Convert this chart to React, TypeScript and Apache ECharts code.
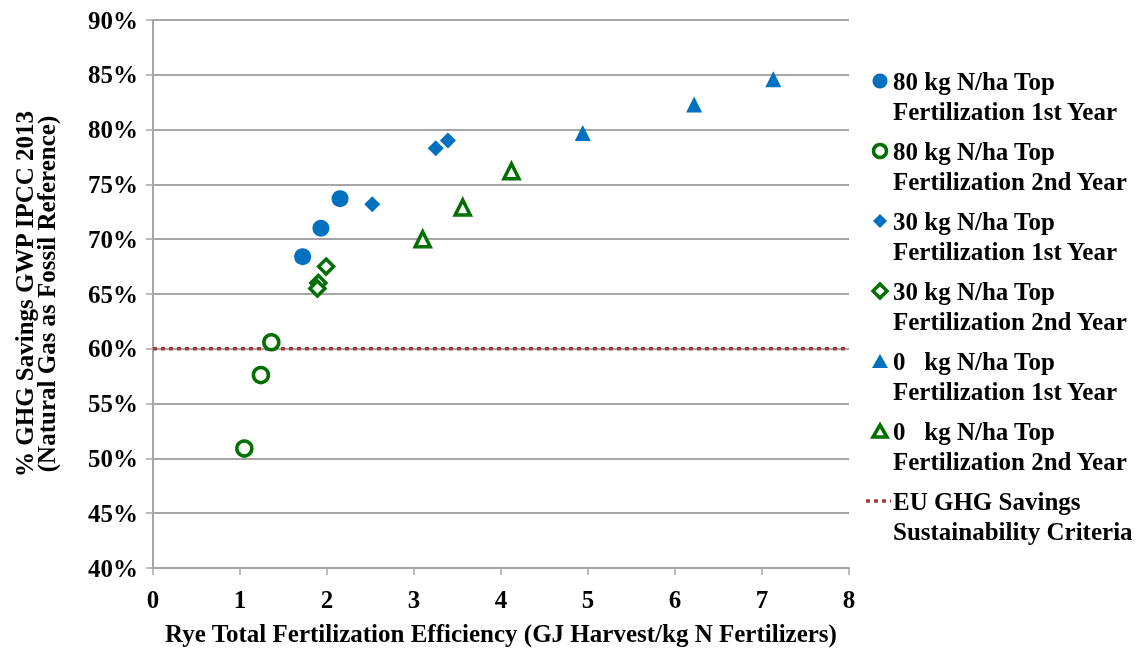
import React, { useEffect, useRef } from "react";
import * as echarts from "echarts";

const seriesNames = [
  "80 kg N/ha Top\nFertilization 1st Year",
  "80 kg N/ha Top\nFertilization 2nd Year",
  "30 kg N/ha Top\nFertilization 1st Year",
  "30 kg N/ha Top\nFertilization 2nd Year",
  "0   kg N/ha Top\nFertilization 1st Year",
  "0   kg N/ha Top\nFertilization 2nd Year",
  "EU GHG Savings\nSustainability Criteria",
];

const n80y1: number[][] = [[1.72, 68.4], [1.93, 71.0], [2.15, 73.7]];
const n80y2: number[][] = [[1.05, 50.9], [1.24, 57.6], [1.36, 60.6]];
const n30y1: number[][] = [[2.52, 73.2], [3.25, 78.3], [3.39, 79.0]];
const n30y2: number[][] = [[1.99, 67.5], [1.90, 66.0], [1.89, 65.5]];
const n0y1: number[][] = [[4.94, 79.7], [6.22, 82.3], [7.13, 84.6]];
const n0y2: number[][] = [[3.10, 70.0], [3.56, 72.9], [4.12, 76.2]];
const euCriteria: number[][] = [[0, 60], [8, 60]];

const xTicks = [0, 8, 1];
const yTicks = [40, 90, 5];

const BLUE = "#0070C0";
const GREEN = "#007000";
const RED = "#A53A3A";
const GREY = "#A6A6A6";
const FONT = "'Liberation Serif', 'Times New Roman', serif";
const FS = 25;

export default function App() {
  const ref = useRef<HTMLDivElement>(null);
  useEffect(() => {
    if (!ref.current) return;
    const chart = echarts.init(ref.current, null, { renderer: "svg" });

    const legendX = 880;
    const legendY0 = 81;
    const gap = 70;
    const legendGraphics: any[] = [];
    seriesNames.forEach((name, i) => {
      const y = legendY0 + gap * i;
      let icon: any;
      if (i === 0) icon = { type: "circle", shape: { cx: legendX, cy: y, r: 7.5 }, style: { fill: BLUE } };
      else if (i === 1) icon = { type: "circle", shape: { cx: legendX, cy: y, r: 6.5 }, style: { fill: "#fff", stroke: GREEN, lineWidth: 3.5 } };
      else if (i === 2) icon = { type: "polygon", shape: { points: [[legendX, y - 7], [legendX + 7, y], [legendX, y + 7], [legendX - 7, y]] }, style: { fill: BLUE } };
      else if (i === 3) icon = { type: "polygon", shape: { points: [[legendX, y - 7], [legendX + 7, y], [legendX, y + 7], [legendX - 7, y]] }, style: { fill: "#fff", stroke: GREEN, lineWidth: 3.5 } };
      else if (i === 4) icon = { type: "polygon", shape: { points: [[legendX, y - 7], [legendX + 8, y + 7], [legendX - 8, y + 7]] }, style: { fill: BLUE } };
      else if (i === 5) icon = { type: "polygon", shape: { points: [[legendX, y - 6], [legendX + 7, y + 6], [legendX - 7, y + 6]] }, style: { fill: "#fff", stroke: GREEN, lineWidth: 3.5 } };
      else icon = { type: "line", shape: { x1: legendX - 14, y1: y, x2: legendX + 11, y2: y }, style: { stroke: RED, lineWidth: 3.5, lineDash: [4, 4] } };
      legendGraphics.push(icon);
      legendGraphics.push({
        type: "text",
        x: 893,
        y: y - 15,
        style: {
          text: name,
          fill: "#000",
          font: `bold ${FS}px ${FONT}`,
          lineHeight: 30,
          textVerticalAlign: "top",
        },
      });
    });

    const scatterBase = (name: string, data: number[][], symbol: string, filled: boolean, color: string, size: number) => ({
      name,
      type: "scatter",
      data,
      symbol,
      symbolSize: size,
      itemStyle: filled
        ? { color, opacity: 1 }
        : { color: "#fff", borderColor: color, borderWidth: 3.5, opacity: 1 },
      z: 5,
    });

    chart.setOption({
      animation: false,
      grid: { left: 153, right: 297, top: 20, bottom: 82, containLabel: false, outerBoundsMode: "none" },
      xAxis: {
        type: "value",
        min: xTicks[0],
        max: xTicks[1],
        interval: xTicks[2],
        name: "Rye Total Fertilization Efficiency (GJ Harvest/kg N Fertilizers)",
        nameLocation: "middle",
        nameGap: 53,
        nameTextStyle: { fontFamily: FONT, fontWeight: "bold", fontSize: FS, color: "#000" },
        axisLine: { show: true, lineStyle: { color: GREY, width: 2 } },
        axisTick: { show: true, inside: false, length: 7, lineStyle: { color: GREY, width: 1.5 } },
        axisLabel: { fontFamily: FONT, fontWeight: "bold", fontSize: FS, color: "#000", margin: 19 },
        splitLine: { show: false },
      },
      yAxis: {
        type: "value",
        min: yTicks[0],
        max: yTicks[1],
        interval: yTicks[2],
        name: "% GHG Savings GWP IPCC 2013\n(Natural Gas as Fossil Reference)",
        nameLocation: "middle",
        nameGap: 96,
        nameRotate: 90,
        nameTextStyle: { fontFamily: FONT, fontWeight: "bold", fontSize: FS, color: "#000", lineHeight: 22 },
        axisLine: { show: true, lineStyle: { color: GREY, width: 2 } },
        axisTick: { show: true, inside: false, length: 7, lineStyle: { color: GREY, width: 1.5 } },
        axisLabel: { fontFamily: FONT, fontWeight: "bold", fontSize: FS, color: "#000", margin: 15, formatter: "{value}%" },
        splitLine: { show: true, lineStyle: { color: GREY, width: 2 } },
      },
      graphic: legendGraphics,
      series: [
        scatterBase(seriesNames[0], n80y1, "circle", true, BLUE, 17),
        scatterBase(seriesNames[1], n80y2, "circle", false, GREEN, 15),
        scatterBase(seriesNames[2], n30y1, "diamond", true, BLUE, 16),
        scatterBase(seriesNames[3], n30y2, "diamond", false, GREEN, 15),
        scatterBase(seriesNames[4], n0y1, "triangle", true, BLUE, 16),
        scatterBase(seriesNames[5], n0y2, "triangle", false, GREEN, 15),
        {
          name: seriesNames[6],
          type: "line",
          data: euCriteria,
          symbol: "none",
          lineStyle: { color: RED, width: 3.5, type: [4, 4] },
          z: 4,
        },
      ],
    });
    return () => chart.dispose();
  }, []);
  return <div ref={ref} style={{ position: "fixed", left: 0, top: 0, width: 1146, height: 650 }} />;
}
